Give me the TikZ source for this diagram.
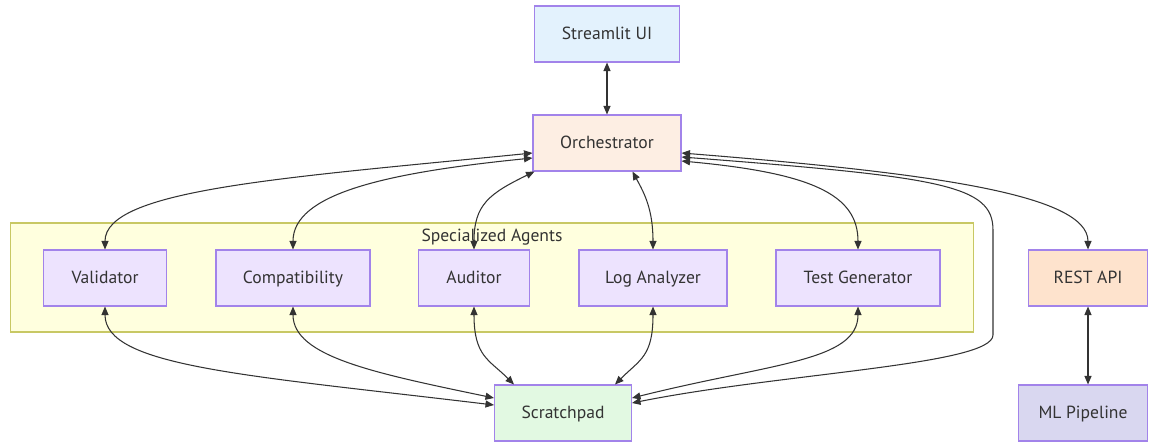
\documentclass[tikz,border=0pt]{standalone}
\usepackage{fontspec}
\setmainfont{PT Sans}
\usetikzlibrary{arrows.meta}

\definecolor{boxline}{HTML}{A283EA}
\definecolor{agentfill}{HTML}{EDE3FE}
\definecolor{grpfill}{HTML}{FFFFDE}
\definecolor{grpline}{HTML}{C8C864}
\definecolor{uifill}{HTML}{E3F2FD}
\definecolor{orcfill}{HTML}{FDEEE3}
\definecolor{apifill}{HTML}{FEE3CD}
\definecolor{scrfill}{HTML}{E2F9E2}
\definecolor{mlfill}{HTML}{D9D7F0}
\definecolor{ink}{HTML}{333333}

\begin{document}
\begin{tikzpicture}[x=0.02cm, y=-0.02cm, >={Triangle[length=1.7mm,width=1.4mm]},
	every node/.style={font=\fontsize{10}{12}\selectfont, text=ink},
	box/.style={draw=boxline, line width=0.6pt, minimum height=1.12cm, inner sep=0pt,
		text height=1.6ex, text depth=0.45ex},
	agent/.style={box, fill=agentfill},
	group/.style={draw=grpline, fill=grpfill, line width=0.6pt, inner sep=0pt},
	link/.style={<->, draw=ink, line width=0.6pt}]
	\useasboundingbox (0,0) rectangle (1150,443);
	
	% 1. 代理分组背景
	\node[group, minimum width=19.28cm, minimum height=2.18cm] (agents) at (492,277.5) {};
	\node (agtlbl) at (492,237) {Specialized Agents};
	
	% 2. 各个节点
	\node[box, fill=uifill, minimum width=2.9cm] (ui) at (607,34) {Streamlit UI};
	\node[box, fill=orcfill, minimum width=2.96cm] (orc) at (607,143) {Orchestrator};
	\node[agent, minimum width=2.46cm] (val) at (105,278) {Validator};
	\node[agent, minimum width=3.08cm] (comp) at (293,278) {Compatibility};
	\node[agent, minimum width=2.22cm] (aud) at (474,278) {Auditor};
	\node[agent, minimum width=2.96cm] (log) at (653,278) {Log Analyzer};
	\node[agent, minimum width=3.28cm] (test) at (858,278) {Test Generator};
	\node[box, fill=apifill, minimum width=2.38cm] (api) at (1088,278) {REST API};
	\node[box, fill=scrfill, minimum width=2.74cm] (scr) at (563,413) {Scratchpad};
	\node[box, fill=mlfill, minimum width=2.58cm] (ml) at (1083,413) {ML Pipeline};
	\coordinate (sideA) at (993,230);
	\coordinate (sideB) at (993,335);
	
	% 3. 编排器连线
	\draw[link] (ui) -- (orc);
	\draw[link] ([yshift=-0.2cm]orc.west) .. controls +(-250,25) and +(0,-60) .. (val.north);
	\draw[link] ([yshift=-0.3cm]orc.west) .. controls +(-150,15) and +(0,-55) .. (comp.north);
	\draw[link] ([xshift=0.04cm]orc.south west) .. controls +(-45,22) and +(0,-45) .. (aud.north);
	\draw[link] ([xshift=2cm]orc.south west) .. controls +(12,22) and +(0,-40) .. (log.north);
	\draw[link] ([yshift=-0.36cm]orc.east) .. controls +(130,12) and +(0,-55) .. (test.north);
	\draw[link] ([yshift=-0.2cm]orc.east) .. controls +(250,20) and +(0,-55) .. (api.north);
	\draw[link] ([yshift=-0.28cm]orc.east) .. controls +(260,20) and +(0,-45) .. (sideA)
		-- (sideB) .. controls +(0,30) and +(150,-30) .. ([yshift=0.2cm]scr.east);
	
	% 4. 草稿板连线
	\draw[link] (val.south) .. controls +(0,60) and +(-250,-30) .. ([yshift=0.16cm]scr.west);
	\draw[link] (comp.south) .. controls +(0,50) and +(-120,-25) .. ([yshift=0.3cm]scr.west);
	\draw[link] (aud.south) .. controls +(0,50) and +(-25,-25) .. ([xshift=0.4cm]scr.north west);
	\draw[link] (log.south) .. controls +(0,50) and +(25,-25) .. ([xshift=-0.34cm]scr.north east);
	\draw[link] (test.south) .. controls +(0,55) and +(140,-35) .. ([yshift=0.3cm]scr.east);
	\draw[link] (api.south) -- (api.south |- ml.north);
\end{tikzpicture}
\end{document}
